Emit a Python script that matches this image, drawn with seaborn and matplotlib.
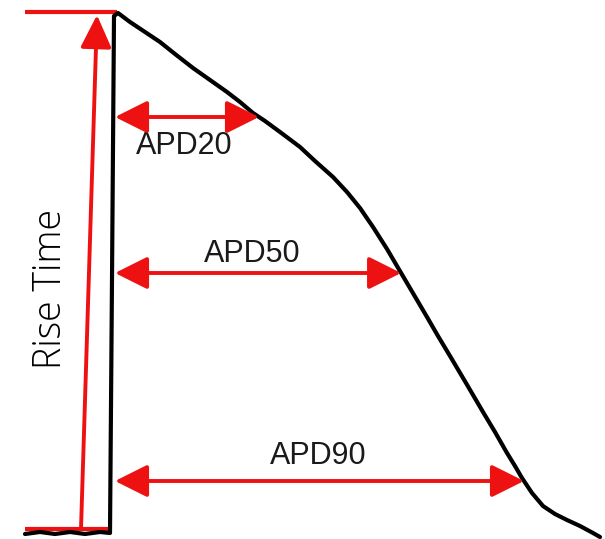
import numpy as np
import pandas as pd
import matplotlib
matplotlib.use("Agg")
import matplotlib.pyplot as plt
import seaborn as sns
from matplotlib.patches import FancyArrowPatch

# ---- data (time and voltage in picture units) ----
trace_t = [25, 40, 55, 70, 85, 100, 110, 112, 114, 118, 130, 145, 160, 175, 193,
           210, 227, 240, 253, 265, 280, 300, 315, 333, 347, 360, 373, 387, 397,
           407, 417, 427, 438, 450, 466, 483, 495, 507, 515, 522, 532, 543, 555,
           567, 580, 593, 600]
trace_v = [5, 7, 5, 7, 5, 7, 6, 260, 523, 526, 517, 507, 497, 485, 471,
           459, 447, 437, 426, 418, 407, 392, 378, 362, 347, 331, 312, 290, 273,
           256, 239, 222, 203, 183, 156, 127, 107, 86, 73, 61, 46, 33, 25,
           19, 13, 6, 2]
rest_v = 6
peak_v = 526
apd_levels = [20, 50, 90]
apd_labels = ["APD20", "APD50", "APD90"]
rise_label = "Rise Time"

sns.set_theme(style="white")
fig = plt.figure(figsize=(6.05, 5.39), dpi=100)
ax = fig.add_axes([0, 0, 1, 1])
ax.set_xlim(0, 605)
ax.set_ylim(0, 539)
ax.axis("off")

RED = "#ee1111"

df = pd.DataFrame({"t": trace_t, "v": trace_v})
sns.lineplot(data=df, x="t", y="v", sort=False, color="black", lw=3.0, ax=ax,
             estimator=None, zorder=3)

# rise-time guide lines
ax.plot([25, 117], [peak_v + 1, peak_v + 1], color=RED, lw=3.0, zorder=2,
        solid_capstyle="butt")
ax.plot([25, 110], [rest_v + 4, rest_v + 4], color=RED, lw=3.0, zorder=2,
        solid_capstyle="butt")
ax.add_patch(FancyArrowPatch((81, rest_v + 4), (97, peak_v - 2),
                             arrowstyle="-|>,head_length=20,head_width=9.5",
                             mutation_scale=1, color=RED, lw=2.8,
                             shrinkA=0, shrinkB=0, zorder=4))
ax.text(51, 250, rise_label, rotation=90, ha="center", va="center",
        fontsize=27, family=["Open Sans", "DejaVu Sans"], fontweight="light",
        color="black")

# APD arrows
t_arr = np.array(trace_t)
v_arr = np.array(trace_v)
decay = t_arr >= 118
dt = t_arr[decay]
dv = v_arr[decay]
label_x = [184, 252, 318]
label_dy = [-29, 19, 25]
for lvl, lab, lx, ldy in zip(apd_levels, apd_labels, label_x, label_dy):
    v_lvl = peak_v - lvl / 100 * (peak_v - rest_v)
    t_end = np.interp(v_lvl, dv[::-1], dt[::-1])
    ax.add_patch(FancyArrowPatch((115, v_lvl), (t_end, v_lvl),
                                 arrowstyle="<|-|>,head_length=20,head_width=10",
                                 mutation_scale=1, color=RED, lw=2.8,
                                 shrinkA=0, shrinkB=0, zorder=4))
    ax.text(lx, v_lvl + ldy, lab, ha="center", va="center", fontsize=22,
            family=["Liberation Sans", "DejaVu Sans"], color="#1a1a1a")

fig.savefig("out.png", dpi=100)
